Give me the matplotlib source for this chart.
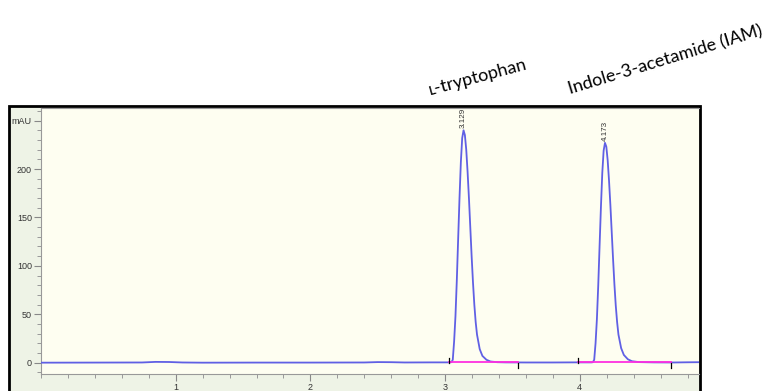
import matplotlib
matplotlib.use("Agg")
import matplotlib.pyplot as plt
from matplotlib.patches import Rectangle
from matplotlib.ticker import MultipleLocator

# ---- data ----
trace_time = [0.00, 0.40, 0.75, 0.85, 0.95, 1.05, 1.20, 1.60, 2.00, 2.40, 2.50, 2.60, 2.70, 2.90, 3.00,
              3.030, 3.047, 3.057, 3.067, 3.077, 3.087, 3.097, 3.107, 3.117, 3.127, 3.137,
              3.147, 3.157, 3.167, 3.177, 3.187, 3.197, 3.207, 3.217, 3.227, 3.237,
              3.257, 3.277, 3.307, 3.337, 3.387, 3.45, 3.60, 3.80, 3.95, 4.05, 4.087,
              4.097, 4.107, 4.117, 4.127, 4.137, 4.147, 4.157, 4.167, 4.177, 4.187,
              4.197, 4.207, 4.217, 4.227, 4.237, 4.247, 4.257, 4.267, 4.277, 4.287,
              4.307, 4.327, 4.357, 4.387, 4.437, 4.55, 4.70, 4.80, 4.89]
trace_mau = [0.0, 0.1, 0.2, 0.8, 0.7, 0.2, 0.0, 0.1, 0.1, 0.2, 0.6, 0.5, 0.2, 0.3, 0.3,
             0.3, 0.5, 3.0, 22, 48, 85, 128, 170, 207, 232, 240,
             235, 220, 197, 170, 140, 110, 83, 60, 42, 29,
             14, 7, 3, 1.2, 0.5, 0.3, 0.2, 0.2, 0.3, 0.3, 0.3,
             0.5, 3.0, 20, 45, 80, 121, 161, 196, 219, 227,
             223, 209, 188, 163, 135, 107, 81, 59, 42, 29,
             15, 8, 3.5, 1.5, 0.6, 0.3, 0.2, 0.4, 0.5]

peak_rt_labels = ["3.129", "4.173"]
peak_label_time = [3.137, 4.187]
peak_label_mau = [240, 227]

baseline_start = [3.03, 3.99]
baseline_end = [3.54, 4.68]

compound_names = ["\u029f-tryptophan", "Indole-3-acetamide (IAM)"]

y_major = [0, 50, 100, 150, 200, 250]
y_major_labels = ["0", "50", "100", "150", "200", "mAU"]
x_major = [1, 2, 3, 4]
x_major_labels = ["1", "2", "3", "4"]

# ---- figure ----
W, H = 770, 391
fig = plt.figure(figsize=(W / 100, H / 100), dpi=100)
fig.patch.set_facecolor("white")

# instrument panel frame
frame = Rectangle((9 / W, -0.05), (700 - 9) / W, 0.05 + (1 - 106 / H),
                  transform=fig.transFigure, facecolor="#eef3e6",
                  edgecolor="black", linewidth=2.0, zorder=-5)
fig.patches.append(frame)

ax = fig.add_axes([41 / W, 1 - 374 / H, (699 - 41) / W, (374 - 108) / H])
ax.set_zorder(2)
ax.set_facecolor("#fefef1")

ax.plot(trace_time, trace_mau, color="#6060e4", lw=1.3, zorder=3, solid_joinstyle="round")

for s, e in zip(baseline_start, baseline_end):
    ax.plot([s, e], [0.4, 0.4], color="#ff30e0", lw=1.3, zorder=4)
    ax.plot([s, s], [0, 5], color="black", lw=0.9, zorder=5)
    ax.plot([e, e], [0, -5], color="black", lw=0.9, zorder=5)

for lab, t, v in zip(peak_rt_labels, peak_label_time, peak_label_mau):
    ax.text(t, v + 2, lab, rotation=90, ha="center", va="bottom",
            fontsize=5.8, color="#333333", family="Liberation Sans")

ax.set_xlim(0, 4.885)
ax.set_ylim(-11.7, 263)

ax.set_yticks(y_major)
ax.set_yticklabels(y_major_labels)
ax.yaxis.set_minor_locator(MultipleLocator(10))
ax.set_xticks(x_major)
ax.set_xticklabels(x_major_labels)
ax.xaxis.set_minor_locator(MultipleLocator(0.2))

ax.tick_params(axis="both", which="major", length=5, width=0.8, color="#888888",
               labelsize=6.5, labelcolor="#333333", pad=1.5)
ax.tick_params(axis="both", which="minor", length=3, width=0.7, color="#999999")
for lab in ax.get_xticklabels() + ax.get_yticklabels():
    lab.set_family("Liberation Sans")

for side in ["left", "bottom", "top"]:
    ax.spines[side].set_color("#999999")
    ax.spines[side].set_linewidth(0.8)
ax.spines["right"].set_visible(False)

# compound annotations above the panel
fig.text(478 / W, 1 - 77 / H, compound_names[0], rotation=15, ha="center", va="center",
         fontsize=13, family=["Lato", "DejaVu Sans"], color="black")
fig.text(665 / W, 1 - 60 / H, compound_names[1], rotation=17, ha="center", va="center",
         fontsize=13, family=["Lato", "DejaVu Sans"], color="black")

fig.savefig("out.png", dpi=100)
